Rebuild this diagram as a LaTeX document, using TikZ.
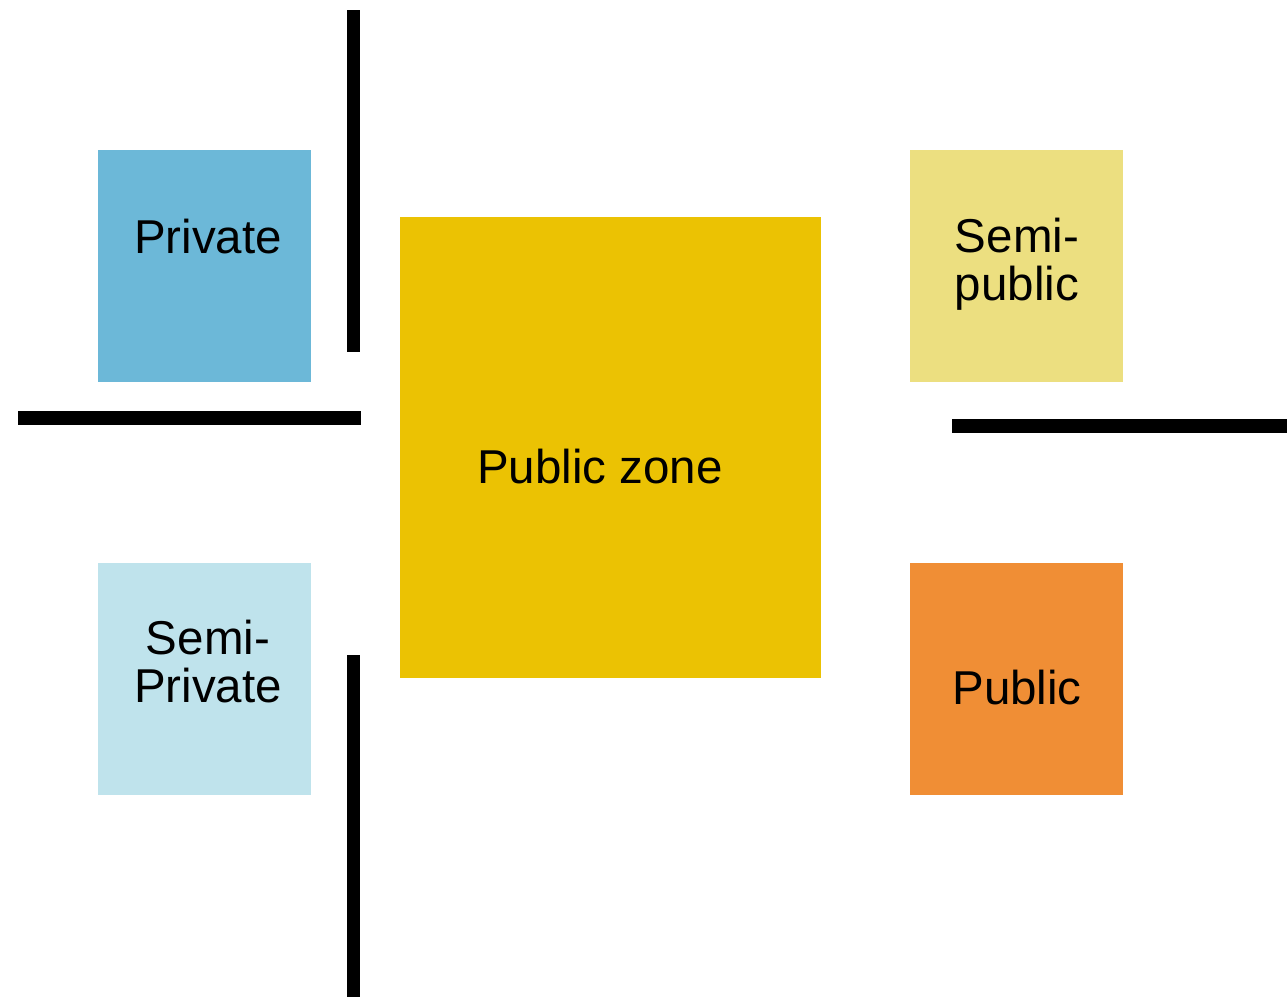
\documentclass[tikz,border=0pt]{standalone}
\usepackage{fontspec}
\setmainfont{Liberation Sans}
\definecolor{cPrivate}{HTML}{6CB8D8}
\definecolor{cSemiPrivate}{HTML}{BFE3EC}
\definecolor{cZone}{HTML}{EBC203}
\definecolor{cSemiPublic}{HTML}{ECDF80}
\definecolor{cPublic}{HTML}{F08E35}
\begin{document}
\begin{tikzpicture}[x=1pt,y=-1pt,
  lbl/.style={align=center,inner sep=0pt,font=\fontsize{47.5}{48}\selectfont},
  wall/.style={fill=black,draw=none}]
\useasboundingbox (0,0) rectangle (1287,999);
% boxes
\fill[cPrivate] (98,150) rectangle (311,382);
\fill[cSemiPrivate] (98,563) rectangle (311,795);
\fill[cZone] (400,217) rectangle (821,678);
\fill[cSemiPublic] (910,150) rectangle (1123,382);
\fill[cPublic] (910,563) rectangle (1123,795);
% walls
\fill[wall] (347,10) rectangle (360,352);
\fill[wall] (18,411) rectangle (361,425);
\fill[wall] (347,655) rectangle (360,997);
\fill[wall] (952,419) rectangle (1287,433);
% labels
\node[lbl] (private) at (208,237) {Private};
\node[lbl] (semiprivate) at (208,662) {Semi-\\Private};
\node[lbl] (zone) at (600,467) {Public zone};
\node[lbl] (semipublic) at (1017,264) {Semi-\\public};
\node[lbl] (public) at (1017,688) {Public};
\end{tikzpicture}
\end{document}
